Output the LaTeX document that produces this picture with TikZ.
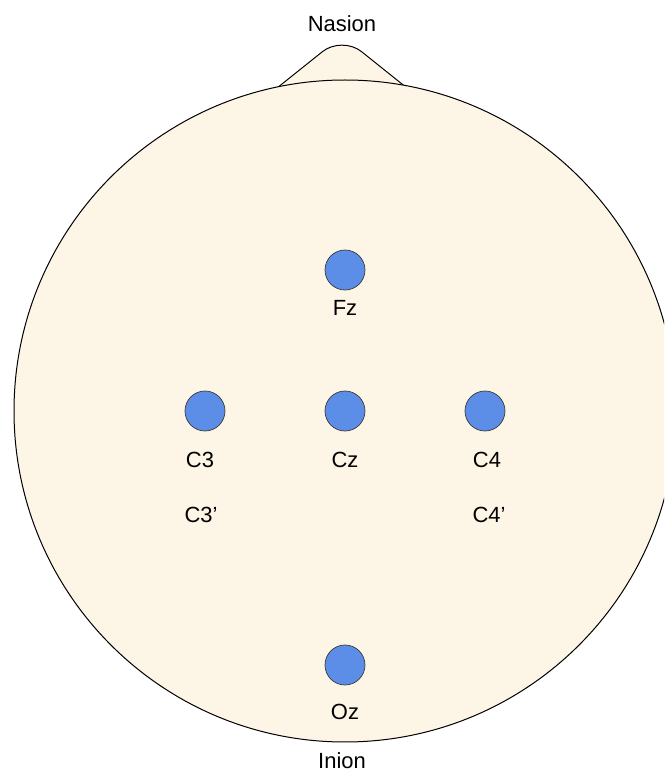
\documentclass[tikz,border=0pt]{standalone}
\usepackage{fontspec}
\setmainfont{Liberation Sans}
\usetikzlibrary{positioning}
\definecolor{skin}{RGB}{253,245,230}
\definecolor{electrode}{RGB}{92,142,232}

\begin{document}
\begin{tikzpicture}[x=0.02cm,y=0.02cm,line width=0.2mm,
    elec/.style={circle,draw=black!75,fill=electrode,line width=0.15mm,minimum size=0.8cm,inner sep=0pt},
    lbl/.style={font=\fontsize{12.5}{14}\selectfont,inner sep=0pt}]

    \useasboundingbox (0,0) rectangle (664,772);
    \clip (0,0) rectangle (664,772);

    % nose and head
    \draw[fill=skin,rounded corners=0.5cm] (272,680) -- (342,736) -- (412,680);
    \draw[fill=skin] (345,361) circle (331);

    % electrodes
    \node[elec] (fz) at (345,502) {};
    \node[elec] (c3) at (205,361) {};
    \node[elec] (cz) at (345,361) {};
    \node[elec] (c4) at (485,361) {};
    \node[elec] (oz) at (345,107) {};

    % labels
    \node[lbl] (nasion) at (342,748) {Nasion};
    \node[lbl] (inion) at (342,11) {Inion};
    \node[lbl] (fzlbl) at (345,464) {Fz};
    \node[lbl] (c3lbl) at (200,312) {C3};
    \node[lbl] (czlbl) at (345,312) {Cz};
    \node[lbl] (c4lbl) at (487,312) {C4};
    \node[lbl] (c3plbl) at (201,257) {C3'};
    \node[lbl] (c4plbl) at (489,257) {C4'};
    \node[lbl] (ozlbl) at (345,60) {Oz};
\end{tikzpicture}
\end{document}
